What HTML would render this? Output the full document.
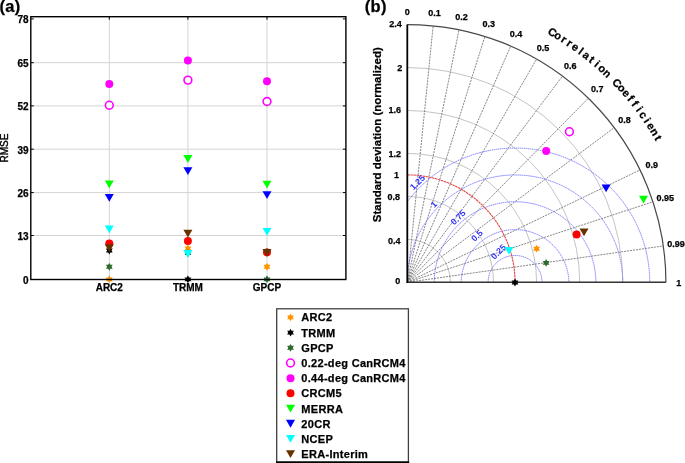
<!DOCTYPE html>
<html><head><meta charset="utf-8"><style>
html,body{margin:0;padding:0;background:#fff;width:685px;height:463px;overflow:hidden;}
svg text{font-family:"Liberation Sans", sans-serif;fill:#000;stroke:#000;stroke-width:0.25px;}
svg{-webkit-font-smoothing:antialiased;will-change:transform;}
</style></head><body>
<svg width="685" height="463" viewBox="0 0 685 463" style="position:absolute;left:0;top:0">
<rect width="685" height="463" fill="#fff"/>
<line x1="30.8" y1="235.5" x2="345.9" y2="235.5" stroke="#d4d4d4" stroke-width="1"/>
<line x1="30.8" y1="192.6" x2="345.9" y2="192.6" stroke="#d4d4d4" stroke-width="1"/>
<line x1="30.8" y1="149.2" x2="345.9" y2="149.2" stroke="#d4d4d4" stroke-width="1"/>
<line x1="30.8" y1="105.9" x2="345.9" y2="105.9" stroke="#d4d4d4" stroke-width="1"/>
<line x1="30.8" y1="62.7" x2="345.9" y2="62.7" stroke="#d4d4d4" stroke-width="1"/>
<line x1="109.3" y1="16.7" x2="109.3" y2="279.5" stroke="#d4d4d4" stroke-width="1"/>
<line x1="187.9" y1="16.7" x2="187.9" y2="279.5" stroke="#d4d4d4" stroke-width="1"/>
<line x1="267.0" y1="16.7" x2="267.0" y2="279.5" stroke="#d4d4d4" stroke-width="1"/>
<line x1="30.8" y1="18.9" x2="33.8" y2="18.9" stroke="#000" stroke-width="1"/>
<line x1="342.9" y1="18.9" x2="345.9" y2="18.9" stroke="#000" stroke-width="1"/>
<line x1="30.8" y1="62.7" x2="33.8" y2="62.7" stroke="#000" stroke-width="1"/>
<line x1="342.9" y1="62.7" x2="345.9" y2="62.7" stroke="#000" stroke-width="1"/>
<line x1="30.8" y1="105.9" x2="33.8" y2="105.9" stroke="#000" stroke-width="1"/>
<line x1="342.9" y1="105.9" x2="345.9" y2="105.9" stroke="#000" stroke-width="1"/>
<line x1="30.8" y1="149.2" x2="33.8" y2="149.2" stroke="#000" stroke-width="1"/>
<line x1="342.9" y1="149.2" x2="345.9" y2="149.2" stroke="#000" stroke-width="1"/>
<line x1="30.8" y1="192.6" x2="33.8" y2="192.6" stroke="#000" stroke-width="1"/>
<line x1="342.9" y1="192.6" x2="345.9" y2="192.6" stroke="#000" stroke-width="1"/>
<line x1="30.8" y1="235.5" x2="33.8" y2="235.5" stroke="#000" stroke-width="1"/>
<line x1="342.9" y1="235.5" x2="345.9" y2="235.5" stroke="#000" stroke-width="1"/>
<line x1="30.8" y1="279.5" x2="33.8" y2="279.5" stroke="#000" stroke-width="1"/>
<line x1="342.9" y1="279.5" x2="345.9" y2="279.5" stroke="#000" stroke-width="1"/>
<line x1="109.3" y1="16.7" x2="109.3" y2="19.7" stroke="#000" stroke-width="1"/>
<line x1="109.3" y1="276.5" x2="109.3" y2="279.5" stroke="#000" stroke-width="1"/>
<line x1="187.9" y1="16.7" x2="187.9" y2="19.7" stroke="#000" stroke-width="1"/>
<line x1="187.9" y1="276.5" x2="187.9" y2="279.5" stroke="#000" stroke-width="1"/>
<line x1="267.0" y1="16.7" x2="267.0" y2="19.7" stroke="#000" stroke-width="1"/>
<line x1="267.0" y1="276.5" x2="267.0" y2="279.5" stroke="#000" stroke-width="1"/>
<polygon points="109.30,275.50 110.43,277.44 112.68,277.45 111.56,279.40 112.68,281.35 110.43,281.36 109.30,283.30 108.17,281.36 105.92,281.35 107.04,279.40 105.92,277.45 108.17,277.44" fill="#ff9400"/>
<polygon points="109.30,246.60 110.43,248.54 112.68,248.55 111.56,250.50 112.68,252.45 110.43,252.46 109.30,254.40 108.17,252.46 105.92,252.45 107.04,250.50 105.92,248.55 108.17,248.54" fill="#000000"/>
<polygon points="109.30,262.90 110.43,264.84 112.68,264.85 111.56,266.80 112.68,268.75 110.43,268.76 109.30,270.70 108.17,268.76 105.92,268.75 107.04,266.80 105.92,264.85 108.17,264.84" fill="#2e6b2e"/>
<circle cx="109.30" cy="105.20" r="3.9" fill="#fff" stroke="#ff00ff" stroke-width="1.6"/>
<circle cx="109.30" cy="84.10" r="4.0" fill="#ff00ff"/>
<circle cx="109.30" cy="243.40" r="4.0" fill="#ff0000"/>
<polygon points="104.80,180.50 113.80,180.50 109.30,188.30" fill="#00ff00"/>
<polygon points="104.80,194.00 113.80,194.00 109.30,201.80" fill="#0000ff"/>
<polygon points="104.80,225.50 113.80,225.50 109.30,233.30" fill="#00ffff"/>
<polygon points="104.80,244.20 113.80,244.20 109.30,252.00" fill="#663300"/>
<polygon points="187.90,244.60 189.03,246.54 191.28,246.55 190.16,248.50 191.28,250.45 189.03,250.46 187.90,252.40 186.77,250.46 184.52,250.45 185.64,248.50 184.52,246.55 186.77,246.54" fill="#ff9400"/>
<polygon points="187.90,275.50 189.03,277.44 191.28,277.45 190.16,279.40 191.28,281.35 189.03,281.36 187.90,283.30 186.77,281.36 184.52,281.35 185.64,279.40 184.52,277.45 186.77,277.44" fill="#000000"/>
<polygon points="187.90,249.10 189.03,251.04 191.28,251.05 190.16,253.00 191.28,254.95 189.03,254.96 187.90,256.90 186.77,254.96 184.52,254.95 185.64,253.00 184.52,251.05 186.77,251.04" fill="#2e6b2e"/>
<circle cx="187.90" cy="80.10" r="3.9" fill="#fff" stroke="#ff00ff" stroke-width="1.6"/>
<circle cx="187.90" cy="60.40" r="4.0" fill="#ff00ff"/>
<circle cx="187.90" cy="241.00" r="4.0" fill="#ff0000"/>
<polygon points="183.40,155.10 192.40,155.10 187.90,162.90" fill="#00ff00"/>
<polygon points="183.40,167.20 192.40,167.20 187.90,175.00" fill="#0000ff"/>
<polygon points="183.40,250.00 192.40,250.00 187.90,257.80" fill="#00ffff"/>
<polygon points="183.40,229.70 192.40,229.70 187.90,237.50" fill="#663300"/>
<polygon points="267.00,262.90 268.13,264.84 270.38,264.85 269.26,266.80 270.38,268.75 268.13,268.76 267.00,270.70 265.87,268.76 263.62,268.75 264.74,266.80 263.62,264.85 265.87,264.84" fill="#ff9400"/>
<polygon points="267.00,248.10 268.13,250.04 270.38,250.05 269.26,252.00 270.38,253.95 268.13,253.96 267.00,255.90 265.87,253.96 263.62,253.95 264.74,252.00 263.62,250.05 265.87,250.04" fill="#000000"/>
<polygon points="267.00,275.50 268.13,277.44 270.38,277.45 269.26,279.40 270.38,281.35 268.13,281.36 267.00,283.30 265.87,281.36 263.62,281.35 264.74,279.40 263.62,277.45 265.87,277.44" fill="#2e6b2e"/>
<circle cx="267.00" cy="101.50" r="3.9" fill="#fff" stroke="#ff00ff" stroke-width="1.6"/>
<circle cx="267.00" cy="81.20" r="4.0" fill="#ff00ff"/>
<circle cx="267.00" cy="252.40" r="4.0" fill="#ff0000"/>
<polygon points="262.50,180.80 271.50,180.80 267.00,188.60" fill="#00ff00"/>
<polygon points="262.50,191.30 271.50,191.30 267.00,199.10" fill="#0000ff"/>
<polygon points="262.50,227.90 271.50,227.90 267.00,235.70" fill="#00ffff"/>
<polygon points="262.50,249.00 271.50,249.00 267.00,256.80" fill="#663300"/>
<rect x="30.8" y="16.7" width="315.1" height="262.8" fill="none" stroke="#000" stroke-width="1.4"/>
<text x="28.6" y="22.7" font-size="10" font-weight="bold" text-anchor="end">78</text>
<text x="28.6" y="67.1" font-size="10" font-weight="bold" text-anchor="end">65</text>
<text x="28.6" y="110.3" font-size="10" font-weight="bold" text-anchor="end">52</text>
<text x="28.6" y="153.6" font-size="10" font-weight="bold" text-anchor="end">39</text>
<text x="28.6" y="197.0" font-size="10" font-weight="bold" text-anchor="end">26</text>
<text x="28.6" y="239.9" font-size="10" font-weight="bold" text-anchor="end">13</text>
<text x="28.6" y="283.9" font-size="10" font-weight="bold" text-anchor="end">0</text>
<text x="109.3" y="290.8" font-size="10" font-weight="bold" text-anchor="middle">ARC2</text>
<text x="187.9" y="290.8" font-size="10" font-weight="bold" text-anchor="middle">TRMM</text>
<text x="267.0" y="290.8" font-size="10" font-weight="bold" text-anchor="middle">GPCP</text>
<text transform="translate(8.0,148.0) rotate(-90)" font-size="10" text-anchor="middle" style="stroke-width:0.4px">RMSE</text>
<text x="-0.5" y="12.0" font-size="16.5" font-weight="bold" letter-spacing="0.35">(a)</text>
<rect x="276.7" y="308.8" width="131.7" height="153.2" fill="#fff" stroke="#404040" stroke-width="1.3"/>
<line x1="276" y1="462.3" x2="409.2" y2="462.3" stroke="#000" stroke-width="1.8"/>
<polygon points="290.50,313.50 291.63,315.44 293.88,315.45 292.76,317.40 293.88,319.35 291.63,319.36 290.50,321.30 289.37,319.36 287.12,319.35 288.24,317.40 287.12,315.45 289.37,315.44" fill="#ff9400"/>
<text x="301.3" y="321.40" font-size="11" font-weight="bold" letter-spacing="0.3">ARC2</text>
<polygon points="290.50,328.69 291.63,330.63 293.88,330.64 292.76,332.59 293.88,334.54 291.63,334.55 290.50,336.49 289.37,334.55 287.12,334.54 288.24,332.59 287.12,330.64 289.37,330.63" fill="#000000"/>
<text x="301.3" y="336.59" font-size="11" font-weight="bold" letter-spacing="0.3">TRMM</text>
<polygon points="290.50,343.88 291.63,345.82 293.88,345.83 292.76,347.78 293.88,349.73 291.63,349.74 290.50,351.68 289.37,349.74 287.12,349.73 288.24,347.78 287.12,345.83 289.37,345.82" fill="#2e6b2e"/>
<text x="301.3" y="351.78" font-size="11" font-weight="bold" letter-spacing="0.3">GPCP</text>
<circle cx="290.50" cy="362.97" r="3.9" fill="#fff" stroke="#ff00ff" stroke-width="1.6"/>
<text x="301.3" y="366.97" font-size="11" font-weight="bold" letter-spacing="0.3">0.22-deg CanRCM4</text>
<circle cx="290.50" cy="378.16" r="4.0" fill="#ff00ff"/>
<text x="301.3" y="382.16" font-size="11" font-weight="bold" letter-spacing="0.3">0.44-deg CanRCM4</text>
<circle cx="290.50" cy="393.35" r="4.0" fill="#ff0000"/>
<text x="301.3" y="397.35" font-size="11" font-weight="bold" letter-spacing="0.3">CRCM5</text>
<polygon points="286.00,404.64 295.00,404.64 290.50,412.44" fill="#00ff00"/>
<text x="301.3" y="412.54" font-size="11" font-weight="bold" letter-spacing="0.3">MERRA</text>
<polygon points="286.00,419.83 295.00,419.83 290.50,427.63" fill="#0000ff"/>
<text x="301.3" y="427.73" font-size="11" font-weight="bold" letter-spacing="0.3">20CR</text>
<polygon points="286.00,435.02 295.00,435.02 290.50,442.82" fill="#00ffff"/>
<text x="301.3" y="442.92" font-size="11" font-weight="bold" letter-spacing="0.3">NCEP</text>
<polygon points="286.00,450.21 295.00,450.21 290.50,458.01" fill="#663300"/>
<text x="301.3" y="458.11" font-size="11" font-weight="bold" letter-spacing="0.3">ERA-Interim</text>
<path d="M407.3,239.34 A43.10,42.96 0 0 1 450.40,282.3" fill="none" stroke="#c4c4c4" stroke-width="1" />
<path d="M407.3,196.38 A86.20,85.92 0 0 1 493.50,282.3" fill="none" stroke="#c4c4c4" stroke-width="1" />
<path d="M407.3,153.42 A129.30,128.88 0 0 1 536.60,282.3" fill="none" stroke="#c4c4c4" stroke-width="1" />
<path d="M407.3,110.46 A172.40,171.84 0 0 1 579.70,282.3" fill="none" stroke="#c4c4c4" stroke-width="1" />
<path d="M407.3,67.50 A215.50,214.80 0 0 1 622.80,282.3" fill="none" stroke="#c4c4c4" stroke-width="1" />
<line x1="407.3" y1="282.3" x2="433.16" y2="25.83" stroke="#777" stroke-width="0.9" stroke-dasharray="2,1"/>
<line x1="407.3" y1="282.3" x2="459.02" y2="29.75" stroke="#777" stroke-width="0.9" stroke-dasharray="2,1"/>
<line x1="407.3" y1="282.3" x2="484.88" y2="36.41" stroke="#777" stroke-width="0.9" stroke-dasharray="2,1"/>
<line x1="407.3" y1="282.3" x2="510.74" y2="46.06" stroke="#777" stroke-width="0.9" stroke-dasharray="2,1"/>
<line x1="407.3" y1="282.3" x2="536.60" y2="59.07" stroke="#777" stroke-width="0.9" stroke-dasharray="2,1"/>
<line x1="407.3" y1="282.3" x2="562.46" y2="76.09" stroke="#777" stroke-width="0.9" stroke-dasharray="2,1"/>
<line x1="407.3" y1="282.3" x2="588.32" y2="98.22" stroke="#777" stroke-width="0.9" stroke-dasharray="2,1"/>
<line x1="407.3" y1="282.3" x2="614.18" y2="127.64" stroke="#777" stroke-width="0.9" stroke-dasharray="2,1"/>
<line x1="407.3" y1="282.3" x2="640.04" y2="169.95" stroke="#777" stroke-width="0.9" stroke-dasharray="2,1"/>
<line x1="407.3" y1="282.3" x2="652.97" y2="201.81" stroke="#777" stroke-width="0.9" stroke-dasharray="2,1"/>
<line x1="407.3" y1="282.3" x2="663.31" y2="245.94" stroke="#777" stroke-width="0.9" stroke-dasharray="2,1"/>
<clipPath id="qc"><path d="M407.3,282.3 L407.3,24.54 A258.60,257.76 0 0 1 665.90,282.3 Z"/></clipPath>
<g clip-path="url(#qc)">
<path d="M488.11,282.3 A26.94,26.85 0 0 1 541.99,282.3" fill="none" stroke="#7a7aff" stroke-width="1" stroke-dasharray="1.4,0.6"/>
<path d="M461.18,282.3 A53.88,53.70 0 0 1 568.92,282.3" fill="none" stroke="#7a7aff" stroke-width="1" stroke-dasharray="1.4,0.6"/>
<path d="M434.24,282.3 A80.81,80.55 0 0 1 595.86,282.3" fill="none" stroke="#7a7aff" stroke-width="1" stroke-dasharray="1.4,0.6"/>
<path d="M407.30,282.3 A107.75,107.40 0 0 1 622.80,282.3" fill="none" stroke="#7a7aff" stroke-width="1" stroke-dasharray="1.4,0.6"/>
<path d="M380.36,282.3 A134.69,134.25 0 0 1 649.74,282.3" fill="none" stroke="#7a7aff" stroke-width="1" stroke-dasharray="1.4,0.6"/>
</g>
<path d="M407.3,174.90 A107.75,107.40 0 0 1 515.05,282.3" fill="none" stroke="#e04848" stroke-width="1.1" stroke-dasharray="2.6,0.5"/>
<path d="M407.3,24.54 A258.60,257.76 0 0 1 665.90,282.3" fill="none" stroke="#484848" stroke-width="1.2" />
<line x1="407.3" y1="282.3" x2="665.90" y2="282.3" stroke="#333" stroke-width="1.4"/>
<line x1="407.3" y1="283.0" x2="407.3" y2="24.54" stroke="#000" stroke-width="1.8"/>
<text x="401.8" y="27.49" font-size="9" font-weight="bold" text-anchor="end">2.4</text>
<text x="402.2" y="70.79" font-size="9" font-weight="bold" text-anchor="end">2</text>
<text x="401.0" y="113.14" font-size="9" font-weight="bold" text-anchor="end">1.6</text>
<text x="401.1" y="156.74" font-size="9" font-weight="bold" text-anchor="end">1.2</text>
<text x="398.9" y="177.64" font-size="9" font-weight="bold" text-anchor="end">1</text>
<text x="400.1" y="199.94" font-size="9" font-weight="bold" text-anchor="end">0.8</text>
<text x="400.4" y="243.64" font-size="9" font-weight="bold" text-anchor="end">0.4</text>
<text x="400.2" y="283.84" font-size="9" font-weight="bold" text-anchor="end">0</text>
<text x="407.30" y="14.85" font-size="9" font-weight="bold" text-anchor="middle">0</text>
<text x="434.45" y="16.21" font-size="9" font-weight="bold" text-anchor="middle">0.1</text>
<text x="461.61" y="20.32" font-size="9" font-weight="bold" text-anchor="middle">0.2</text>
<text x="488.76" y="27.32" font-size="9" font-weight="bold" text-anchor="middle">0.3</text>
<text x="515.91" y="37.45" font-size="9" font-weight="bold" text-anchor="middle">0.4</text>
<text x="543.07" y="51.11" font-size="9" font-weight="bold" text-anchor="middle">0.5</text>
<text x="570.22" y="68.98" font-size="9" font-weight="bold" text-anchor="middle">0.6</text>
<text x="597.37" y="92.22" font-size="9" font-weight="bold" text-anchor="middle">0.7</text>
<text x="624.52" y="123.11" font-size="9" font-weight="bold" text-anchor="middle">0.8</text>
<text x="651.68" y="167.53" font-size="9" font-weight="bold" text-anchor="middle">0.9</text>
<text x="665.25" y="200.99" font-size="9" font-weight="bold" text-anchor="middle">0.95</text>
<text x="676.11" y="247.32" font-size="9" font-weight="bold" text-anchor="middle">0.99</text>
<text x="678.83" y="285.50" font-size="9" font-weight="bold" text-anchor="middle">1</text>
<text transform="translate(549.53,36.75) rotate(30.00)" y="-1.6" font-size="11" font-weight="bold" text-anchor="middle">C</text>
<text transform="translate(555.35,40.19) rotate(31.36)" y="-1.6" font-size="11" font-weight="bold" text-anchor="middle">o</text>
<text transform="translate(561.09,43.77) rotate(32.73)" y="-1.6" font-size="11" font-weight="bold" text-anchor="middle">r</text>
<text transform="translate(566.74,47.49) rotate(34.09)" y="-1.6" font-size="11" font-weight="bold" text-anchor="middle">r</text>
<text transform="translate(572.30,51.34) rotate(35.45)" y="-1.6" font-size="11" font-weight="bold" text-anchor="middle">e</text>
<text transform="translate(577.77,55.32) rotate(36.82)" y="-1.6" font-size="11" font-weight="bold" text-anchor="middle">l</text>
<text transform="translate(583.14,59.43) rotate(38.18)" y="-1.6" font-size="11" font-weight="bold" text-anchor="middle">a</text>
<text transform="translate(588.41,63.66) rotate(39.55)" y="-1.6" font-size="11" font-weight="bold" text-anchor="middle">t</text>
<text transform="translate(593.58,68.02) rotate(40.91)" y="-1.6" font-size="11" font-weight="bold" text-anchor="middle">i</text>
<text transform="translate(598.64,72.50) rotate(42.27)" y="-1.6" font-size="11" font-weight="bold" text-anchor="middle">o</text>
<text transform="translate(603.60,77.10) rotate(43.64)" y="-1.6" font-size="11" font-weight="bold" text-anchor="middle">n</text>
<text transform="translate(613.17,86.64) rotate(46.36)" y="-1.6" font-size="11" font-weight="bold" text-anchor="middle">C</text>
<text transform="translate(617.79,91.58) rotate(47.73)" y="-1.6" font-size="11" font-weight="bold" text-anchor="middle">o</text>
<text transform="translate(622.28,96.62) rotate(49.09)" y="-1.6" font-size="11" font-weight="bold" text-anchor="middle">e</text>
<text transform="translate(626.65,101.78) rotate(50.45)" y="-1.6" font-size="11" font-weight="bold" text-anchor="middle">f</text>
<text transform="translate(630.90,107.03) rotate(51.82)" y="-1.6" font-size="11" font-weight="bold" text-anchor="middle">f</text>
<text transform="translate(635.02,112.38) rotate(53.18)" y="-1.6" font-size="11" font-weight="bold" text-anchor="middle">i</text>
<text transform="translate(639.01,117.83) rotate(54.55)" y="-1.6" font-size="11" font-weight="bold" text-anchor="middle">c</text>
<text transform="translate(642.88,123.38) rotate(55.91)" y="-1.6" font-size="11" font-weight="bold" text-anchor="middle">i</text>
<text transform="translate(646.60,129.01) rotate(57.27)" y="-1.6" font-size="11" font-weight="bold" text-anchor="middle">e</text>
<text transform="translate(650.20,134.73) rotate(58.64)" y="-1.6" font-size="11" font-weight="bold" text-anchor="middle">n</text>
<text transform="translate(653.65,140.53) rotate(60.00)" y="-1.6" font-size="11" font-weight="bold" text-anchor="middle">t</text>
<text transform="translate(498.3,251.7) rotate(-45)" y="3.2" font-size="8.8" font-weight="bold" style="fill:#3030ff;stroke:none" text-anchor="middle">0.25</text>
<text transform="translate(476.8,235.5) rotate(-45)" y="3.2" font-size="8.8" font-weight="bold" style="fill:#3030ff;stroke:none" text-anchor="middle">0.5</text>
<text transform="translate(458.0,217.3) rotate(-45)" y="3.2" font-size="8.8" font-weight="bold" style="fill:#3030ff;stroke:none" text-anchor="middle">0.75</text>
<text transform="translate(433.7,204.3) rotate(-45)" y="3.2" font-size="8.8" font-weight="bold" style="fill:#3030ff;stroke:none" text-anchor="middle">1</text>
<text transform="translate(417.4,182.3) rotate(-45)" y="3.2" font-size="8.8" font-weight="bold" style="fill:#3030ff;stroke:none" text-anchor="middle">1.25</text>
<polygon points="536.60,244.80 537.73,246.74 539.98,246.75 538.86,248.70 539.98,250.65 537.73,250.66 536.60,252.60 535.47,250.66 533.22,250.65 534.34,248.70 533.22,246.75 535.47,246.74" fill="#ff9400"/>
<polygon points="515.00,278.60 516.13,280.54 518.38,280.55 517.26,282.50 518.38,284.45 516.13,284.46 515.00,286.40 513.87,284.46 511.62,284.45 512.74,282.50 511.62,280.55 513.87,280.54" fill="#000000"/>
<polygon points="546.10,259.00 547.23,260.94 549.48,260.95 548.36,262.90 549.48,264.85 547.23,264.86 546.10,266.80 544.97,264.86 542.72,264.85 543.84,262.90 542.72,260.95 544.97,260.94" fill="#2e6b2e"/>
<circle cx="569.40" cy="131.70" r="3.9" fill="#fff" stroke="#ff00ff" stroke-width="1.6"/>
<circle cx="546.20" cy="150.90" r="4.0" fill="#ff00ff"/>
<circle cx="576.60" cy="234.50" r="4.0" fill="#ff0000"/>
<polygon points="639.00,195.80 648.00,195.80 643.50,203.60" fill="#00ff00"/>
<polygon points="601.60,184.50 610.60,184.50 606.10,192.30" fill="#0000ff"/>
<polygon points="504.50,246.90 513.50,246.90 509.00,254.70" fill="#00ffff"/>
<polygon points="579.50,228.50 588.50,228.50 584.00,236.30" fill="#663300"/>
<text transform="translate(380.8,134.7) rotate(-90)" font-size="11.5" font-weight="bold" text-anchor="middle">Standard deviation (normalized)</text>
<text x="364.7" y="12.0" font-size="16.5" font-weight="bold" letter-spacing="0.35">(b)</text>
</svg>
</body></html>
